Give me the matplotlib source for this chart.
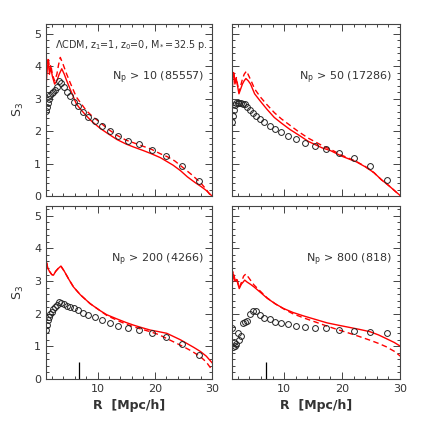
import numpy as np
import matplotlib
matplotlib.use("Agg")
import matplotlib.pyplot as plt
from matplotlib.ticker import MultipleLocator

# bin centres of the measured points (same for every panel)
r_pts = [1.08, 1.22, 1.38, 1.55, 1.75, 2.0, 2.25, 2.5, 2.85, 3.2, 3.6, 4.1, 4.6, 5.2,
         5.9, 6.6, 7.5, 8.4, 9.5, 10.7, 12.1, 13.6, 15.3, 17.3, 19.5, 22.0, 24.8, 27.8]

# N_p > 10
s3_10 = [2.62, 2.75, 2.88, 3.0, 3.1, 3.17, 3.22, 3.28, 3.35, 3.53, 3.47, 3.35, 3.2, 3.08,
         2.91, 2.76, 2.59, 2.43, 2.31, 2.17, 2.0, 1.86, 1.71, 1.59, 1.41, 1.22, 0.92, 0.45]
r_sol_10 = [1.0, 1.2, 1.4, 1.6, 1.85, 2.1, 2.5, 2.9, 3.3, 3.75, 4.2, 4.6, 5.2, 6.3, 7.0, 8.0,
            9.0, 10.5, 12.0, 13.4, 15.0, 16.3, 18.0, 19.3, 21.0, 23.2, 24.5, 25.7, 27.0, 28.1, 29.0, 30.0]
s_sol_10 = [3.35, 3.9, 4.15, 3.75, 3.95, 3.7, 3.45, 3.55, 3.75, 3.92, 3.75, 3.56, 3.3, 2.84, 2.68, 2.48,
            2.3, 2.08, 1.9, 1.74, 1.6, 1.51, 1.4, 1.31, 1.18, 0.95, 0.78, 0.59, 0.42, 0.29, 0.17, 0.0]
r_das_10 = [1.0, 1.2, 1.4, 1.6, 1.85, 2.1, 2.5, 2.9, 3.2, 3.5, 4.0, 4.6, 5.2, 6.3, 7.0, 8.0,
            9.0, 10.5, 12.0, 13.4, 15.0, 16.3, 18.0, 19.3, 21.0, 22.2, 23.5, 25.1, 26.5, 28.1, 29.0, 30.0]
s_das_10 = [3.5, 4.0, 4.27, 3.9, 4.05, 3.75, 3.55, 3.75, 4.05, 4.27, 4.05, 3.76, 3.5, 3.05, 2.88, 2.64,
            2.47, 2.26, 2.04, 1.87, 1.72, 1.64, 1.53, 1.45, 1.3, 1.21, 1.08, 0.85, 0.65, 0.39, 0.2, -0.05]

# N_p > 50
s3_50 = [2.28, 2.48, 2.64, 2.8, 2.86, 2.88, 2.87, 2.86, 2.84, 2.82, 2.74, 2.65, 2.56, 2.46,
         2.36, 2.27, 2.17, 2.07, 1.97, 1.86, 1.75, 1.64, 1.54, 1.45, 1.33, 1.16, 0.91, 0.48]
r_sol_50 = [1.0, 1.15, 1.3, 1.5, 1.75, 2.0, 2.2, 2.5, 2.8, 3.1, 3.4, 3.8, 4.2, 4.9, 5.9, 7.0,
            8.3, 9.5, 11.0, 12.5, 14.2, 16.6, 18.0, 19.9, 21.2, 22.5, 24.0, 25.5, 26.8, 28.0, 29.6, 30.0]
s_sol_50 = [3.0, 3.75, 3.8, 3.45, 3.6, 3.35, 3.15, 3.3, 3.45, 3.55, 3.62, 3.55, 3.45, 3.15, 2.92, 2.68,
            2.42, 2.25, 2.05, 1.88, 1.68, 1.48, 1.4, 1.23, 1.14, 1.05, 0.9, 0.72, 0.5, 0.33, 0.08, 0.02]
r_das_50 = [1.0, 1.15, 1.3, 1.5, 1.75, 2.0, 2.2, 2.5, 2.8, 3.1, 3.5, 3.9, 4.3, 4.9, 5.9, 7.0,
            8.3, 9.5, 11.0, 12.5, 14.2, 16.6, 18.0, 19.9, 21.2, 22.5, 24.0, 25.5, 26.8, 28.0, 29.6, 30.0]
s_das_50 = [3.1, 3.8, 3.85, 3.5, 3.65, 3.4, 3.2, 3.4, 3.6, 3.75, 3.85, 3.7, 3.55, 3.3, 3.05, 2.82,
            2.57, 2.38, 2.18, 1.98, 1.78, 1.55, 1.44, 1.26, 1.16, 1.06, 0.91, 0.72, 0.5, 0.33, 0.08, 0.02]

# N_p > 200
s3_200 = [1.5, 1.65, 1.8, 1.9, 1.98, 2.06, 2.14, 2.2, 2.28, 2.35, 2.34, 2.3, 2.24, 2.21,
          2.16, 2.1, 2.02, 1.96, 1.89, 1.82, 1.72, 1.63, 1.56, 1.5, 1.42, 1.29, 1.07, 0.73]
r_sol_200 = [1.0, 1.1, 1.3, 1.6, 2.0, 2.3, 2.7, 3.1, 3.6, 4.2, 5.0, 5.8, 7.0, 8.7, 10.4, 11.6,
             13.4, 15.0, 16.3, 17.8, 19.2, 20.7, 22.1, 23.3, 24.5, 25.6, 26.8, 28.0, 29.0, 30.0]
s_sol_200 = [3.0, 3.56, 3.4, 3.3, 3.2, 3.18, 3.3, 3.38, 3.46, 3.3, 3.05, 2.82, 2.58, 2.31, 2.1, 1.97,
             1.84, 1.73, 1.65, 1.57, 1.5, 1.45, 1.4, 1.3, 1.2, 1.09, 0.97, 0.84, 0.7, 0.5]
r_das_200 = [1.0, 1.1, 1.3, 1.6, 2.0, 2.3, 2.7, 3.1, 3.6, 4.2, 5.0, 5.8, 7.0, 8.7, 10.4, 11.6,
             13.4, 15.0, 16.3, 17.8, 19.2, 20.7, 22.1, 23.5, 25.0, 26.5, 28.0, 29.0, 30.0]
s_das_200 = [3.0, 3.56, 3.4, 3.3, 3.2, 3.18, 3.3, 3.38, 3.46, 3.3, 3.05, 2.82, 2.58, 2.31, 2.1, 1.95,
             1.8, 1.68, 1.6, 1.52, 1.45, 1.36, 1.24, 1.12, 0.99, 0.85, 0.68, 0.52, 0.28]

# N_p > 800
s3_800 = [1.55, 0.99, 1.14, 1.02, 1.07, 1.4, 1.19, 1.33, 1.72, 1.75, 1.77, 1.99, 2.08, 2.08,
          1.96, 1.86, 1.84, 1.75, 1.71, 1.67, 1.63, 1.6, 1.57, 1.55, 1.5, 1.47, 1.45, 1.4]
r_sol_800 = [1.0, 1.2, 1.5, 1.8, 2.25, 2.6, 3.2, 3.6, 4.2, 4.8, 6.0, 7.1, 8.5, 9.9, 11.5, 13.4,
             15.5, 17.4, 19.3, 21.3, 23.0, 24.8, 26.3, 27.6, 29.0, 30.2]
s_sol_800 = [2.77, 3.21, 3.0, 3.05, 2.77, 2.9, 3.03, 2.97, 2.9, 2.82, 2.64, 2.47, 2.3, 2.16, 2.04, 1.93,
             1.82, 1.72, 1.65, 1.58, 1.52, 1.45, 1.35, 1.24, 1.12, 0.99]
r_das_800 = [1.0, 1.2, 1.5, 1.8, 2.25, 2.6, 3.0, 3.4, 3.9, 4.8, 6.0, 7.1, 8.5, 9.9, 11.5, 13.4,
             15.5, 17.4, 19.3, 21.3, 23.0, 24.8, 26.3, 27.6, 29.0, 30.2]
s_das_800 = [2.85, 3.3, 3.05, 3.1, 2.8, 2.95, 3.15, 3.22, 3.1, 2.88, 2.67, 2.48, 2.3, 2.15, 2.0, 1.87,
             1.74, 1.62, 1.51, 1.4, 1.3, 1.19, 1.09, 0.99, 0.85, 0.68]

labels = ["N$_{\\rm p}$ > 10 (85557)", "N$_{\\rm p}$ > 50 (17286)",
          "N$_{\\rm p}$ > 200 (4266)", "N$_{\\rm p}$ > 800 (818)"]
title_txt = "\u039bCDM, z$_1$=1, z$_0$=0, M$_*$=32.5 p."
r_mark = 6.8   # small vertical marker in the lower panels
mark_h = 0.53

panels = [
    (s3_10, r_sol_10, s_sol_10, r_das_10, s_das_10),
    (s3_50, r_sol_50, s_sol_50, r_das_50, s_das_50),
    (s3_200, r_sol_200, s_sol_200, r_das_200, s_das_200),
    (s3_800, r_sol_800, s_sol_800, r_das_800, s_das_800),
]

plt.rcParams['font.family'] = ['DejaVu Sans']
fig = plt.figure(figsize=(4.24, 4.24), dpi=100)

W = 424.0
boxes = [(46, 24, 212, 196), (232, 24, 400, 196),
         (46, 206, 212, 379), (232, 206, 400, 379)]
txt_col = '#333333'

for i, (box, data, lab) in enumerate(zip(boxes, panels, labels)):
    x0, y0, x1, y1 = box
    ax = fig.add_axes([x0 / W, 1 - y1 / W, (x1 - x0) / W, (y1 - y0) / W])
    s3, rs, ss, rd, sd = data
    ax.plot(rs, ss, color='red', lw=1.0)
    ax.plot(rd, sd, color='red', lw=1.0, ls=(0, (4, 2.5)))
    ax.plot(r_pts, s3, ls='none', marker='o', ms=4.2, mfc='none', mec='#222222', mew=0.7)
    ax.set_xlim(1, 30)
    ax.set_ylim(0, 5.3)
    ax.xaxis.set_major_locator(MultipleLocator(10))
    ax.xaxis.set_minor_locator(MultipleLocator(2))
    ax.yaxis.set_major_locator(MultipleLocator(1))
    ax.yaxis.set_minor_locator(MultipleLocator(0.2))
    ax.tick_params(which='both', direction='in', top=True, right=True,
                   labelsize=8, labelcolor=txt_col, color='#444444', width=0.7)
    ax.tick_params(which='major', length=5)
    ax.tick_params(which='minor', length=2.5)
    for sp in ax.spines.values():
        sp.set_linewidth(0.8)
        sp.set_color('#444444')
    if i % 2 == 1:
        ax.set_yticklabels([])
    else:
        ax.set_ylabel("S$_3$", fontsize=9, color=txt_col, labelpad=6)
    if i < 2:
        ax.set_xticklabels([])
    else:
        ax.set_xlabel("R  [Mpc/h]", fontsize=9, color=txt_col, fontweight='bold', labelpad=4)
        ax.vlines(r_mark, 0, mark_h, color='black', lw=0.9)
    ax.text(0.95, 0.69, lab, transform=ax.transAxes, ha='right', va='center',
            fontsize=8, color=txt_col)
    if i == 0:
        ax.text(0.055, 0.88, title_txt, transform=ax.transAxes, ha='left', va='center',
                fontsize=6.9, color=txt_col)

fig.savefig("out.png", dpi=100)
